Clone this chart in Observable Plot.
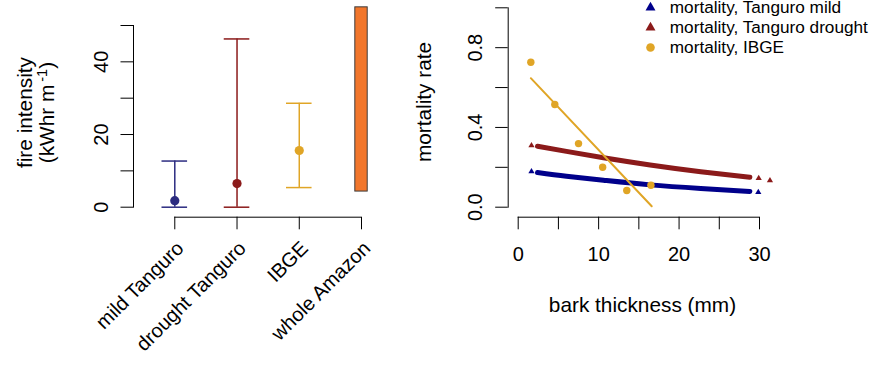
<!DOCTYPE html>
<html><head><meta charset="utf-8">
<script src="https://cdn.jsdelivr.net/npm/d3@7"></script>
<script src="https://cdn.jsdelivr.net/npm/@observablehq/plot@0.6"></script>
<style>
html,body{margin:0;padding:0;background:#fff;}
#wrap{position:relative;width:876px;height:372px;overflow:hidden;font-family:"Liberation Sans",Arial,Helvetica,sans-serif;}
#wrap > div{position:absolute;top:0;}
</style></head><body>
<div id="wrap"><div id="left" style="left:0"></div><div id="right" style="left:438px"></div><div id="legend" style="left:630px"></div></div>
<script>
// ---- left panel data: fire intensity ----
const fireCats   = ["mild Tanguro", "drought Tanguro", "IBGE", "whole Amazon"];
const fireMid    = [1.8, 6.5, 15.6, null];
const fireLo     = [0, 0, 5.4, 4.3];
const fireHi     = [12.7, 46.3, 28.6, 55];
const fireColors = ["#2B2B80", "#8B1A1A", "#E0A526", "#F2762B"];
const fireTicks  = [0, 10, 20, 30, 40, 50];
const fireTickLabels = [0, 20, 40];

// ---- right panel data: mortality vs bark thickness ----
const mildCurveX = [2.4, 6, 10.6, 16.4, 22.7, 28.8];
const mildCurveY = [0.174, 0.155, 0.135, 0.112, 0.094, 0.079];
const droughtCurveX = [2.4, 6, 10.6, 16.4, 22.7, 28.8];
const droughtCurveY = [0.306, 0.280, 0.248, 0.212, 0.178, 0.150];
const mildPtsX = [1.65, 29.85];
const mildPtsY = [0.179, 0.075];
const droughtPtsX = [1.65, 29.9, 31.3];
const droughtPtsY = [0.309, 0.145, 0.134];
const ibgeX = [1.57, 4.55, 7.5, 10.5, 13.5, 16.5];
const ibgeY = [0.727, 0.515, 0.319, 0.20, 0.084, 0.110];
const ibgeFitX = [1.57, 16.6];
const ibgeFitY = [0.647, 0.005];
const mortTicks = [0, 0.2, 0.4, 0.6, 0.8, 1.0];
const mortTickLabels = [0, 0.4, 0.8];
const barkTicks = [0, 5, 10, 15, 20, 25, 30];
const barkTickLabels = [0, 10, 20, 30];
const colMild = "#00008B", colDrought = "#8B1A1A", colIBGE = "#E0A526";

// ---- legend ----
const legendLabels  = ["mortality, Tanguro mild", "mortality, Tanguro drought", "mortality, IBGE"];
const legendColors  = [colMild, colDrought, colIBGE];
const legendSymbols = ["triangle", "triangle", "circle"];

const FONT = "'Liberation Sans', Arial, Helvetica, sans-serif";
const TICK = 20, TITLE = 20.8, LEG = 17.2;
const baseStyle = {fontFamily: FONT, fontSize: "20px", background: "transparent", color: "#000", overflow: "visible"};

// ===== left =====
const fire = fireCats.map((c, i) => ({cat: c, mid: fireMid[i], lo: fireLo[i], hi: fireHi[i], color: fireColors[i]}));
const errs = fire.filter(d => d.mid != null);
const ranges = fire.filter(d => d.mid == null);
const caps = errs.flatMap(d => [{cat: d.cat, v: d.lo, color: d.color}, {cat: d.cat, v: d.hi, color: d.color}]);
const bw = 25.6;

const left = Plot.plot({
  width: 438, height: 372,
  marginLeft: 133, marginTop: 25, marginBottom: 165.3, marginRight: 0,
  style: baseStyle,
  x: {type: "band", domain: fireCats, range: [161.5, 373.8], paddingInner: 0.589, paddingOuter: 0, round: false, label: null},
  y: {domain: [0, 50], label: null},
  color: {type: "identity"},
  marks: [
    Plot.frame({anchor: "left", stroke: "#000"}),
    Plot.axisY({ticks: fireTicks, tickSize: 12.5, tickFormat: () => "", stroke: "#000", label: null}),
    Plot.text(fireTickLabels, {y: d => d, text: d => String(d), frameAnchor: "left", rotate: -90, dx: -32,
      textAnchor: "middle", lineAnchor: "middle", fontSize: TICK}),
    Plot.axisX({tickSize: 12.6, dy: 10, tickFormat: () => "", stroke: "#000", label: null}),
    Plot.ruleY([fireTicks[0]], {x1: () => fireCats[0], x2: () => fireCats[fireCats.length - 1], dy: 10,
      insetLeft: bw / 2, insetRight: bw / 2, stroke: "#000"}),
    Plot.text(fireCats, {x: d => d, frameAnchor: "bottom", rotate: -45, textAnchor: "end", lineAnchor: "middle",
      dx: 5.5, dy: 37.8, fontSize: TICK}),
    Plot.barY(ranges, {x: "cat", y1: "lo", y2: "hi", fill: "color", stroke: "#3c3c3c", strokeWidth: 1,
      insetLeft: 6.6, insetRight: 6.6}),
    Plot.ruleX(errs, {x: "cat", y1: "lo", y2: "hi", stroke: "color", strokeWidth: 1.5}),
    Plot.tickY(caps, {x: "cat", y: "v", stroke: "color", strokeWidth: 1.5}),
    Plot.dot(errs, {x: "cat", y: "mid", fill: "color", r: 4.6}),
    Plot.text(["fire intensity"], {frameAnchor: "left", rotate: -90, dx: -108.5, dy: -3.8, textAnchor: "middle",
      lineAnchor: "middle", fontSize: TITLE}),
    Plot.text(["(kWhr m-1)"], {frameAnchor: "left", rotate: -90, dx: -86.5, dy: -3.8, textAnchor: "middle",
      lineAnchor: "middle", fontSize: TITLE})
  ]
});
document.getElementById("left").appendChild(left);
// superscript
d3.select(left).selectAll("text").filter(function () { return this.textContent === "(kWhr m-1)"; })
  .each(function () {
    const t = d3.select(this);
    t.text("");
    t.append("tspan").text("(kWhr m");
    t.append("tspan").attr("dx", 3).attr("dy", "-0.45em").attr("font-size", "0.7em").text("-1");
    t.append("tspan").attr("dy", "0.315em").text(")");
  });

// ===== right =====
const toPts = (X, Y) => X.map((x, i) => ({x, y: Y[i]}));
const right = Plot.plot({
  width: 438, height: 372,
  marginLeft: 69.7, marginTop: 7.3, marginBottom: 165.3, marginRight: 117,
  style: baseStyle,
  x: {domain: [0, 30], range: [79.7, 321], label: null},
  y: {domain: [0, 1], label: null},
  marks: [
    Plot.frame({anchor: "left", stroke: "#000"}),
    Plot.axisY({ticks: mortTicks, tickSize: 12.5, tickFormat: () => "", stroke: "#000", label: null}),
    Plot.text(mortTickLabels, {y: d => d, text: d => d.toFixed(1), frameAnchor: "left", rotate: -90, dx: -33,
      textAnchor: "middle", lineAnchor: "middle", fontSize: TICK}),
    Plot.axisX({ticks: barkTicks, tickSize: 12.6, dy: 10, tickPadding: 17.4, fontSize: TICK, stroke: "#000", label: null,
      tickFormat: d => barkTickLabels.includes(d) ? String(d) : ""}),
    Plot.ruleY([mortTicks[0]], {x1: () => barkTicks[0], x2: () => barkTicks[barkTicks.length - 1], dy: 10, stroke: "#000"}),
    Plot.line(toPts(droughtCurveX, droughtCurveY), {x: "x", y: "y", stroke: colDrought, strokeWidth: 5, curve: "natural"}),
    Plot.line(toPts(mildCurveX, mildCurveY), {x: "x", y: "y", stroke: colMild, strokeWidth: 5, curve: "natural"}),
    Plot.dot(toPts(droughtPtsX, droughtPtsY), {x: "x", y: "y", symbol: "triangle", fill: colDrought, r: 2.3}),
    Plot.dot(toPts(mildPtsX, mildPtsY), {x: "x", y: "y", symbol: "triangle", fill: colMild, r: 2.3}),
    Plot.line(toPts(ibgeFitX, ibgeFitY), {x: "x", y: "y", stroke: colIBGE, strokeWidth: 2}),
    Plot.dot(toPts(ibgeX, ibgeY), {x: "x", y: "y", fill: colIBGE, r: 3.7}),
    Plot.text(["mortality rate"], {frameAnchor: "left", rotate: -90, dx: -84.1, dy: -5.5, textAnchor: "middle",
      lineAnchor: "middle", fontSize: TITLE}),
    Plot.text(["bark thickness (mm)"], {frameAnchor: "bottom", dx: 8.6, dy: 97.9, textAnchor: "middle",
      lineAnchor: "middle", fontSize: TITLE})
  ]
});
document.getElementById("right").appendChild(right);

// ===== legend =====
const legendItems = legendLabels.map((l, i) => ({label: l, color: legendColors[i], symbol: legendSymbols[i]}));
const legend = Plot.plot({
  width: 246, height: 60, marginLeft: 20, marginTop: 0, marginRight: 0, marginBottom: 0,
  style: baseStyle,
  x: {axis: null},
  y: {type: "point", domain: legendLabels, range: [6.7, 46.7], padding: 0, axis: null},
  marks: [
    Plot.dot(legendItems.filter(d => d.symbol === "triangle"), {y: "label", frameAnchor: "left", symbol: "triangle", fill: d => d.color, r: 3.7}),
    Plot.dot(legendItems.filter(d => d.symbol === "circle"), {y: "label", frameAnchor: "left", symbol: "circle", fill: d => d.color, r: 4.3}),
    Plot.text(legendItems, {y: "label", text: "label", frameAnchor: "left", dx: 19.3, textAnchor: "start",
      lineAnchor: "middle", fontSize: LEG})
  ],
  color: {type: "identity"}
});
document.getElementById("legend").appendChild(legend);
</script>
</body></html>
